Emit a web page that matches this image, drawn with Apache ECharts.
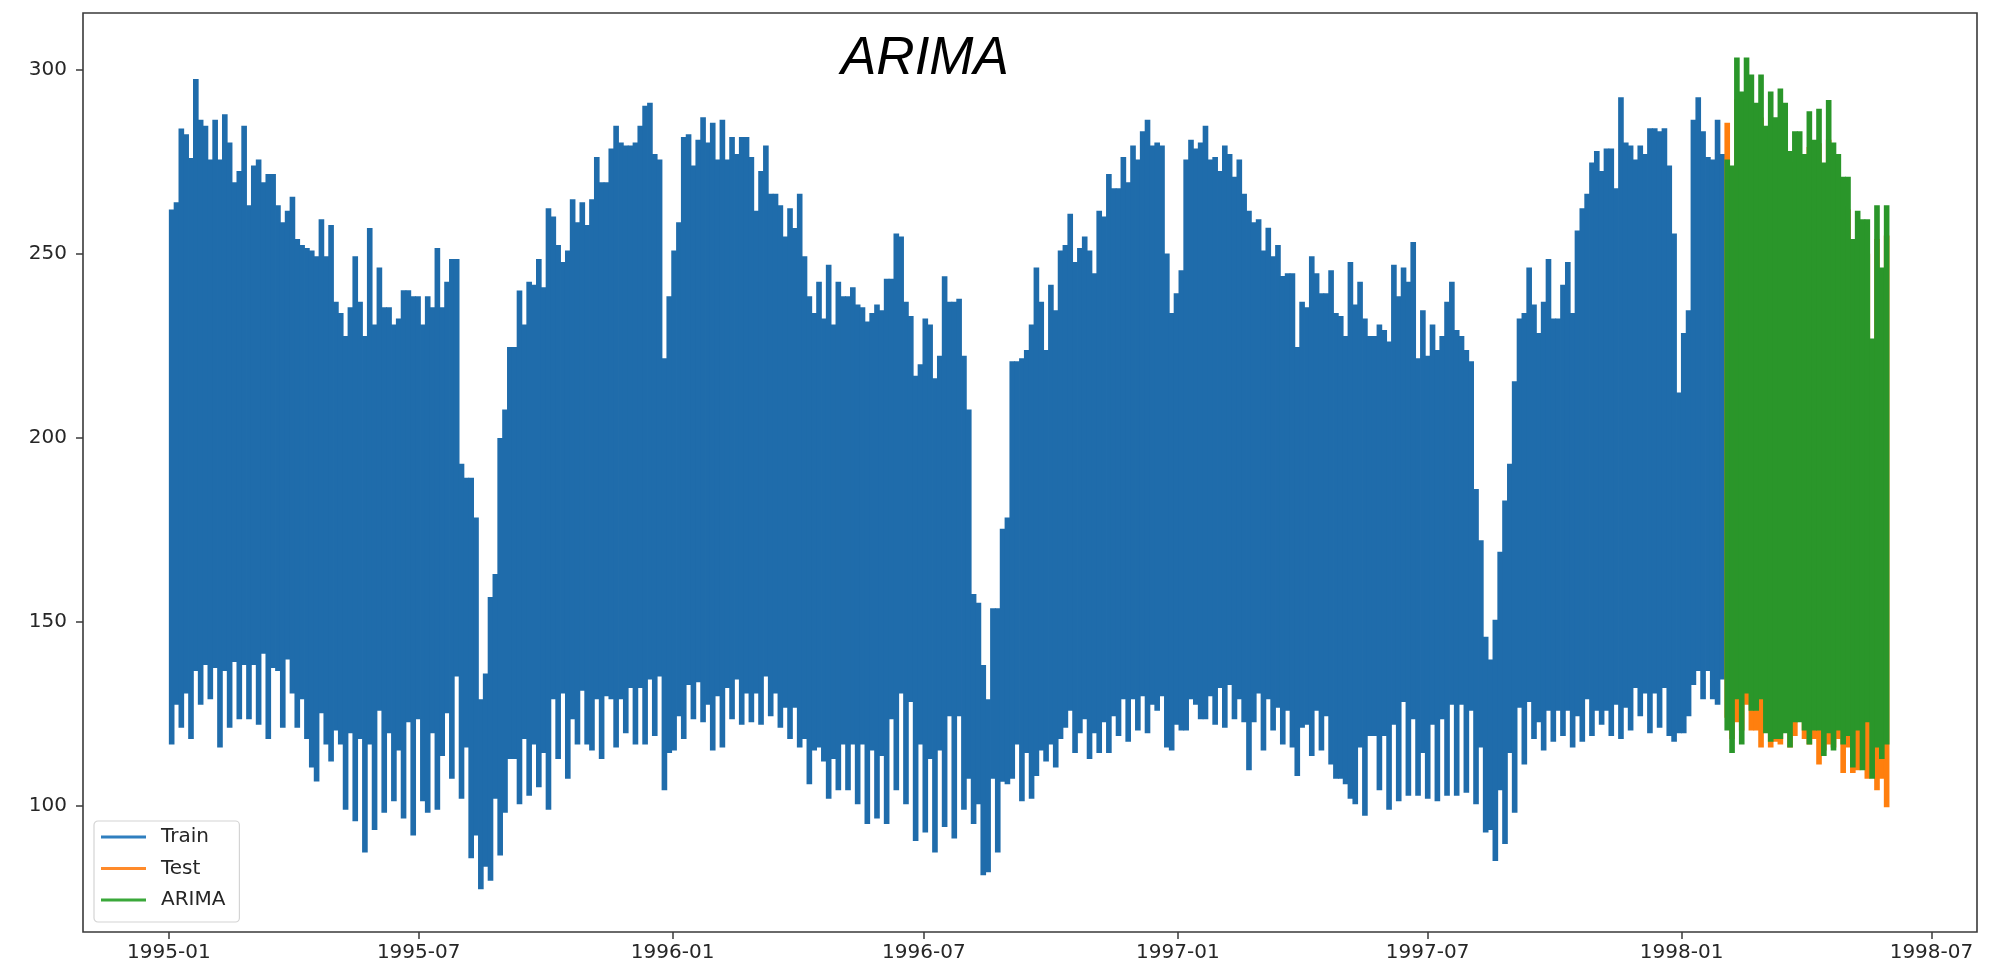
<!DOCTYPE html>
<html>
<head>
<meta charset="utf-8">
<script src="https://cdn.jsdelivr.net/npm/echarts@6/dist/echarts.min.js"></script>
<style>
  html, body { margin: 0; padding: 0; background: #fff; }
  #arima { width: 2004px; height: 966px; }
</style>
</head>
<body>
<div id="arima"></div>
<script>
// half-week envelope samples (max / min of the half-hourly load)
var trainStart = [1995, 0, 1];
var testStart = [1998, 1, 1];
var stepDays = 3.5;

var trainHigh = [
  262, 264, 284, 282.5, 276, 297.5, 286.4, 284.8, 275.6, 286.4,
  275.6, 287.9, 280.2, 269.4, 272.5, 284.8, 263.2, 274, 275.6, 269.4,
  271.7, 271.7, 263.2, 258.6, 261.7, 265.5, 254, 252.4, 251.6, 250.9,
  249.3, 259.4, 249.3, 257.8, 237, 233.9, 227.7, 235.5, 249.3, 237,
  227.7, 257, 230.8, 246.3, 235.5, 235.5, 230.8, 232.4, 240.1, 240.1,
  238.5, 238.5, 230.8, 238.5, 235.5, 251.6, 235.5, 242.4,
  248.6, 248.6, 193, 189.2, 189.2, 178.4, 129, 136, 156.8, 163,
  200, 207.7, 224.7, 224.7, 240, 230.8, 242.4, 241.6, 248.6, 240.9,
  262.4, 260.1, 252.4, 247.8, 250.9, 264.8, 258.6, 264, 257.8, 264.8,
  276.3, 269.4, 269.4, 278.6, 284.8, 280.2, 279.4, 279.4, 280.2, 284.8,
  290.2, 291, 277.1, 275.6, 221.6, 238.5, 250.9, 258.6, 281.7, 282.5,
  274, 281, 287.1, 280.2, 285.6, 275.6, 286.4, 275.6, 281.7, 277.1,
  281.7, 281.7, 276.3, 261.7, 272.5, 279.4, 266.3, 266.3, 263.2, 254.7,
  262.4, 257, 266.3, 249.3, 238.5, 233.9, 242.4, 232.4, 247, 230.8,
  242.4, 238.5, 238.5, 240.9, 236.2, 235.5, 231.6, 233.9, 236.2, 234.7,
  243.2, 243.2, 255.5, 254.7, 237, 233.1, 216.9, 220, 232.4, 230.8,
  216.2, 222.3, 243.9, 237, 237, 237.8, 222.3, 207.7, 157.6, 155.2,
  138.3, 129, 153.7, 153.7, 175.3, 178.4, 220.8, 220.8, 221.6, 223.9,
  230.8, 246.3, 237, 223.9, 241.6, 234.7, 250.9, 252.4, 260.9, 247.8,
  251.6, 254.7, 250.9, 244.7, 261.7, 260.1, 271.7, 267.8, 267.8, 276.3,
  269.4, 279.4, 275.6, 283.3, 286.4, 279.4, 280.2, 279.4, 250.1, 233.9,
  239.3, 245.5, 275.6, 281, 278.6, 280.2, 284.8, 275.6, 276.3, 272.5,
  279.4, 277.1, 270.9, 275.6, 266.3, 261.7, 258.6, 259.4, 250.9, 257.1,
  249.3, 252.4, 244, 244.7, 244.7, 224.7, 237, 235.5, 249.3, 244.7,
  239.3, 239.3, 245.5, 233.9, 233.1, 227.7, 247.8, 236.2, 242.4, 232.4,
  227.7, 227.7, 230.8, 229.3, 226.2, 247, 238.5, 246.3, 242.4, 253.2,
  221.6, 234.7, 222.3, 230.8, 223.9, 227.7, 237, 242.4, 229.3, 227.7,
  223.9, 220.8, 186.1, 172.2, 146, 139.8, 150.6, 169.1, 183, 193,
  215.4, 232.4, 233.9, 246.3, 236.2, 228.5, 237, 248.6, 232.4, 232.4,
  241.6, 247.8, 233.9, 256.3, 262.4, 266.3, 274.8, 277.9, 272.5, 278.6,
  278.6, 267.8, 292.5, 280.2, 279.4, 275.6, 279.4, 277.1, 284.1, 284.1,
  283.3, 284.1, 274, 255.5, 212.3, 228.5, 234.7, 286.4, 292.5, 283.3,
  276.3, 275.6, 286.4, 277.1
];
var trainLow = [
  116.7, 127.5, 121.3, 130.6, 118.2, 136.7, 127.5, 138.3, 129, 137.5,
  115.9, 136.7, 121.3, 139.1, 123.6, 138.3, 123.6, 138.3, 122.1, 141.4,
  118.2, 137.5, 136.7, 121.3, 139.8, 130.6, 121.3, 129, 118.2, 110.5,
  106.7, 125.2, 116.7, 112.1, 120.5, 116.7, 99, 119.8, 95.9, 118.2,
  87.4, 116.7, 93.5, 125.9, 98.2, 119.8, 101.3, 115.1, 96.6, 122.8,
  92, 123.6, 101.3, 98.2, 119.8, 99, 113.6, 125.2,
  107.4, 135.2, 102, 115.9, 85.8, 92, 77.4, 83.5, 79.7, 102,
  86.6, 98.2, 112.8, 112.8, 100.5, 118.2, 102.8, 116.7, 105.1, 114.4,
  99, 129, 112.8, 130.6, 107.4, 123.6, 116.7, 131.3, 116.7, 115.1,
  129, 112.8, 129.8, 129, 115.9, 129, 119.8, 132.1, 116.7, 132.1,
  116.7, 134.4, 119, 135.2, 104.3, 114.4, 115.1, 124.4, 118.2, 132.9,
  123.6, 133.6, 122.8, 127.5, 115.1, 129.8, 115.9, 132.1, 123.6, 134.4,
  122.1, 130.6, 122.8, 130.6, 122.1, 135.2, 124.4, 130.6, 121.3, 126.7,
  118.2, 126.7, 115.9, 118.2, 105.9, 115.1, 115.9, 112.1, 102, 112.8,
  104.3, 116.7, 104.3, 116.7, 100.5, 116.7, 95.1, 115.1, 96.6, 113.6,
  95.1, 123.6, 104.3, 130.6, 100.5, 128.3, 90.5, 116.7, 92.8, 112.8,
  87.4, 115.1, 94.3, 124.4, 91.2, 124.4, 99, 107.4, 95.1, 100.5,
  81.2, 82, 107.4, 87.4, 106.6, 105.9, 107.4, 116.7, 101.3, 114.4,
  102, 108.2, 115.1, 112.1, 116.7, 110.5, 118.2, 121.3, 125.9, 114.4,
  119.8, 123.6, 112.8, 119.8, 114.4, 122.8, 114.4, 124.4, 119, 129,
  117.5, 129, 120.5, 129.8, 119.8, 127.5, 125.9, 129.8, 115.9, 115.1,
  122.1, 120.5, 120.5, 129, 127.5, 123.6, 123.6, 129.8, 122.1, 132.1,
  121.3, 132.9, 123.6, 129, 122.8, 109.7, 122.8, 130.6, 115.1, 129,
  120.5, 126.7, 116.7, 125.9, 115.9, 108.2, 121.3, 122.1, 113.6, 125.9,
  115.1, 124.4, 111.3, 107.4, 107.4, 105.9, 102, 100.5, 115.9, 97.4,
  119, 119, 104.3, 119, 99, 122.1, 101.3, 128.3, 102.8, 123.6,
  102.8, 114.4, 102, 122.1, 101.3, 123.6, 102.8, 127.5, 102.8, 127.5,
  103.6, 125.9, 100.5, 115.9, 92.8, 93.5, 85.1, 104.3, 89.7, 114.4,
  98.2, 126.7, 111.3, 128.3, 118.2, 122.8, 115.1, 125.9, 117.5, 125.9,
  119, 125.9, 115.9, 124.4, 117.5, 129, 119, 125.9, 122.1, 125.9,
  119, 127.5, 118.2, 126.7, 120.5, 132.1, 124.4, 130.6, 119.8, 130.6,
  121.3, 132.1, 119, 117.5, 119.8, 119.8, 124.4, 132.9, 136.7, 129,
  136.7, 129, 127.5, 134.4
];

var testHigh = [
  285.6, 272, 292, 285, 291, 288, 282, 287, 276, 283,
  279, 284, 281, 271, 275, 276, 270, 279, 273, 280,
  268, 281, 272, 270, 263, 262, 248, 253, 252, 250,
  226, 254, 241, 255
];
var testLow = [
  124, 118.2, 122.8, 120.5, 127.5, 120.5, 120.5, 115.9, 121.3, 115.9,
  117.5, 116.7, 121.3, 115.9, 119, 123.6, 118.2, 116.7, 118.2, 111.3,
  115.1, 116.7, 115.9, 118.2, 109, 115.9, 109, 109.7, 113.6, 107.4,
  109, 104.3, 107.4, 99.7
];

var arimaHigh = [
  275.6, 274, 303.3, 294.1, 303.3, 298.7, 291, 298.7, 284.8, 294.1,
  287.1, 294.9, 291, 277.9, 283.3, 283.3, 277.1, 288.7, 281, 289.4,
  274.8, 291.8, 280.2, 277.1, 270.9, 270.9, 254, 261.7, 259.4, 259.4,
  227, 263.2, 246.3, 263.2
];
var arimaLow = [
  120.5, 114.4, 129, 116.7, 130.6, 125.9, 125.9, 129, 119.8, 117.5,
  118.2, 118.2, 119.8, 115.9, 122.8, 122.8, 120.5, 116.7, 120.5, 120.5,
  113.6, 119.8, 115.1, 120.5, 116.7, 119, 110.5, 120.5, 109.7, 122.8,
  107.4, 115.9, 112.8, 116.7
];

var xTicks = ['1995-01', '1995-07', '1996-01', '1996-07', '1997-01', '1997-07', '1998-01', '1998-07'];
var yTicks = [100, 150, 200, 250, 300];

var DAY = 86400000;
var stepMs = stepDays * DAY;
var t0 = Date.UTC(trainStart[0], trainStart[1], trainStart[2]);
var t1 = Date.UTC(testStart[0], testStart[1], testStart[2]);

function toRows(start, highs, lows) {
  var rows = [];
  for (var i = 0; i < highs.length; i++) {
    rows.push([start + (i + 0.5) * stepMs, lows[i], highs[i]]);
  }
  return rows;
}

function tickTime(s) {
  var p = s.split('-');
  return Date.UTC(+p[0], +p[1] - 1, 1);
}

function pad(n) { return n < 10 ? '0' + n : '' + n; }

// each sample is a vertical span from low to high, one half-week wide
function renderSpan(params, api) {
  var x = api.value(0);
  var top = api.coord([x - stepMs / 2, api.value(2)]);
  var bottom = api.coord([x + stepMs / 2, api.value(1)]);
  return {
    type: 'rect',
    shape: {
      x: top[0],
      y: top[1],
      width: bottom[0] - top[0] + 0.8,
      height: bottom[1] - top[1]
    },
    style: { fill: api.visual('color') }
  };
}

var font = 'DejaVu Sans';

var myChart = echarts.init(document.getElementById('arima'));
myChart.setOption({
  animation: false,
  backgroundColor: '#fff',
  title: {
    text: 'ARIMA',
    left: 836,
    top: 28,
    textStyle: {
      fontFamily: 'Liberation Sans',
      fontStyle: 'italic',
      fontWeight: 'normal',
      fontSize: 53,
      color: '#000'
    }
  },
  grid: {
    left: 83,
    right: 27,
    top: 13,
    bottom: 34,
    show: true,
    borderColor: '#3a3a3a',
    borderWidth: 1.6,
    backgroundColor: 'transparent'
  },
  legend: {
    left: 94,
    top: 821,
    orient: 'vertical',
    padding: [6, 14, 12, 7],
    itemGap: 11.5,
    itemWidth: 45,
    itemHeight: 3,
    backgroundColor: '#fff',
    borderColor: '#d4d4d4',
    borderWidth: 1.2,
    borderRadius: 4,
    textStyle: {
      fontFamily: font,
      fontSize: 20,
      color: '#262626',
      padding: [0, 0, 0, 10]
    },
    data: [
      { name: 'Train', icon: 'rect', itemStyle: { color: '#2f7fbf' } },
      { name: 'Test', icon: 'rect', itemStyle: { color: '#ff8a2a' } },
      { name: 'ARIMA', icon: 'rect', itemStyle: { color: '#3aa83a' } }
    ]
  },
  xAxis: {
    type: 'value',
    min: t0 - 62.2 * DAY,
    max: t0 + 1310 * DAY,
    axisLine: { show: false },
    splitLine: { show: false },
    axisTick: {
      show: true,
      length: 7,
      customValues: xTicks.map(tickTime),
      lineStyle: { color: '#3a3a3a', width: 1.5 }
    },
    axisLabel: {
      customValues: xTicks.map(tickTime),
      margin: 11,
      fontFamily: font,
      fontSize: 20,
      color: '#262626',
      formatter: function (v) {
        var d = new Date(v);
        return d.getUTCFullYear() + '-' + pad(d.getUTCMonth() + 1);
      }
    }
  },
  yAxis: {
    type: 'value',
    min: 65.8,
    max: 315.4,
    axisLine: { show: false },
    splitLine: { show: false },
    axisTick: {
      show: true,
      length: 7,
      customValues: yTicks,
      lineStyle: { color: '#3a3a3a', width: 1.5 }
    },
    axisLabel: {
      customValues: yTicks,
      margin: 16,
      fontFamily: font,
      fontSize: 20,
      color: '#262626'
    }
  },
  series: [{
    name: 'Train',
    type: 'custom',
    renderItem: renderSpan,
    encode: { x: 0, y: [1, 2] },
    itemStyle: { color: '#1f6cab' },
    clip: true,
    data: toRows(t0, trainHigh, trainLow)
  }, {
    name: 'Test',
    type: 'custom',
    renderItem: renderSpan,
    encode: { x: 0, y: [1, 2] },
    itemStyle: { color: '#ff7f0e' },
    clip: true,
    data: toRows(t1, testHigh, testLow)
  }, {
    name: 'ARIMA',
    type: 'custom',
    renderItem: renderSpan,
    encode: { x: 0, y: [1, 2] },
    itemStyle: { color: '#2a962a' },
    clip: true,
    data: toRows(t1, arimaHigh, arimaLow)
  }]
});
</script>
</body>
</html>
